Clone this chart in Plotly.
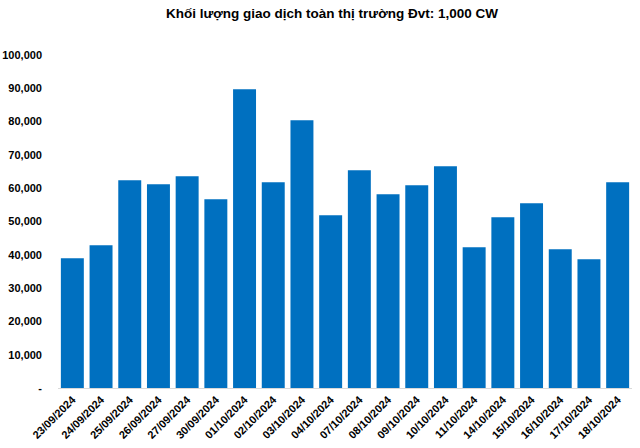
import plotly.graph_objects as go

dates = ["23/09/2024", "24/09/2024", "25/09/2024", "26/09/2024", "27/09/2024",
         "30/09/2024", "01/10/2024", "02/10/2024", "03/10/2024", "04/10/2024",
         "07/10/2024", "08/10/2024", "09/10/2024", "10/10/2024", "11/10/2024",
         "14/10/2024", "15/10/2024", "16/10/2024", "17/10/2024", "18/10/2024"]
volume = [39000, 42900, 62400, 61200, 63600, 56700, 89700, 61800, 80400, 51900,
          65400, 58200, 60900, 66600, 42300, 51300, 55500, 41700, 38700, 61800]

y_tickvals = [0, 10000, 20000, 30000, 40000, 50000, 60000, 70000, 80000, 90000, 100000]
y_ticktext = ["-", "10,000", "20,000", "30,000", "40,000", "50,000", "60,000",
              "70,000", "80,000", "90,000", "100,000"]

font_family = "Arial, Liberation Sans, sans-serif"

fig = go.Figure(go.Bar(x=dates, y=volume, marker_color="#0070C0", marker_line_width=0))

fig.update_layout(
    width=640, height=448,
    margin=dict(l=58, r=8, t=55, b=60),
    paper_bgcolor="white", plot_bgcolor="white",
    bargap=0.2,
    showlegend=False,
    title=dict(text="<b>Khối lượng giao dịch toàn thị trường Đvt: 1,000 CW</b>",
               x=332/640, xanchor="center", y=1 - 13/448, yanchor="middle",
               font=dict(family=font_family, size=13.5, color="black")),
    font=dict(family=font_family, color="black"),
)
fig.update_xaxes(
    type="category", tickangle=-45, automargin=False,
    tickfont=dict(family=font_family, size=11, color="black", weight="bold"),
    showline=True, linecolor="#D9D9D9", linewidth=1,
    showgrid=False, ticks="",
)
fig.update_yaxes(
    range=[0, 100000], tickvals=y_tickvals, ticktext=y_ticktext, automargin=False,
    tickfont=dict(family=font_family, size=11, color="black", weight="bold"),
    showgrid=False, zeroline=False, showline=False, ticks="",
    ticklabelstandoff=15,
)

fig.write_html("out.html")
